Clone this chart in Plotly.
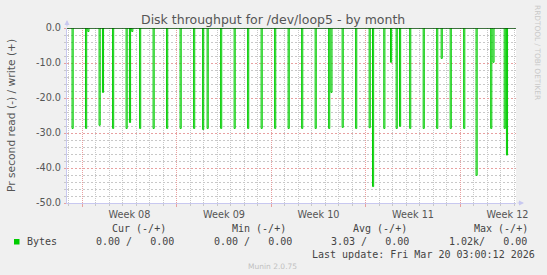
import plotly.graph_objects as go
from datetime import datetime, timedelta

# ---------------- data ----------------
range_start = "2026-02-14 21:00"
range_end = "2026-03-20 03:00"

spike_times = [
    "2026-02-15 06:00", "2026-02-16 06:00", "2026-02-16 10:00", "2026-02-17 06:00",
    "2026-02-17 12:00", "2026-02-18 06:00", "2026-02-19 06:00", "2026-02-19 12:00",
    "2026-02-19 16:00", "2026-02-20 06:00", "2026-02-21 06:00", "2026-02-22 06:00",
    "2026-02-23 06:00", "2026-02-24 06:00", "2026-02-24 22:00", "2026-02-25 06:00",
    "2026-02-26 06:00", "2026-02-27 06:00", "2026-02-28 06:00", "2026-03-01 06:00",
    "2026-03-02 06:00", "2026-03-03 06:00", "2026-03-04 06:00", "2026-03-05 06:00",
    "2026-03-06 06:00", "2026-03-06 10:00", "2026-03-07 06:00", "2026-03-08 06:00",
    "2026-03-09 06:00", "2026-03-09 12:00", "2026-03-10 08:00", "2026-03-10 20:00",
    "2026-03-11 06:00", "2026-03-11 12:00", "2026-03-12 06:00", "2026-03-13 06:00",
    "2026-03-14 06:00", "2026-03-14 14:00", "2026-03-15 06:00", "2026-03-16 06:00",
    "2026-03-17 04:00", "2026-03-18 06:00", "2026-03-18 10:00", "2026-03-19 06:00",
    "2026-03-19 10:00",
]
read_values = [
    28.7, 28.7, 1.0, 27.8,
    18.4, 28.7, 28.7, 27.0,
    1.0, 28.7, 28.7, 28.7,
    28.7, 28.7, 29.0, 28.7,
    28.7, 28.7, 28.7, 28.7,
    28.7, 28.7, 28.7, 28.7,
    28.7, 18.4, 28.4, 28.7,
    28.5, 45.3, 28.7, 9.8,
    28.7, 28.1, 28.7, 28.7,
    28.7, 8.7, 28.7, 28.7,
    42.1, 28.7, 9.8, 28.7,
    36.3,
]
sample_hours = 2  # month consolidation step

week_starts = ["2026-02-16", "2026-02-23", "2026-03-02", "2026-03-09", "2026-03-16"]
week_label_pos = ["2026-02-19 12:00", "2026-02-26 12:00", "2026-03-05 12:00",
                  "2026-03-12 12:00", "2026-03-19 12:00"]
week_labels = ["Week 08", "Week 09", "Week 10", "Week 11", "Week 12"]

y_ticks = [0, -10, -20, -30, -40, -50]
y_ticktext = ["0.0", "-10.0", "-20.0", "-30.0", "-40.0", "-50.0"]
y_minor_step = 2

legend_heads = ["Cur (-/+)", "Min (-/+)", "Avg (-/+)", "Max (-/+)"]
legend_label = "Bytes"
legend_vals = ["0.00 /   0.00", "0.00 /   0.00", "3.03 /   0.00", "1.02k/   0.00"]
last_update = "Last update: Fri Mar 20 03:00:12 2026"

# ---------------- build series ----------------
fmt = "%Y-%m-%d %H:%M"
xs = [range_start]
ys = [0]
for t, v in zip(spike_times, read_values):
    t0 = datetime.strptime(t, fmt)
    xs.append(t0)
    ys.append(-v)
    xs.append(t0 + timedelta(hours=sample_hours))
    ys.append(0)
xs.append(range_end)
ys.append(0)

# daily minor ticks and 2-unit minor ticks (axis furniture)
d0 = datetime.strptime(range_start, fmt).replace(hour=0, minute=0) + timedelta(days=1)
d1 = datetime.strptime(range_end, fmt)
day_ticks = []
d = d0
while d <= d1:
    day_ticks.append(d)
    d += timedelta(days=1)
y_minor_ticks = list(range(-50, 1, y_minor_step))

# ---------------- layout geometry ----------------
W, H = 547, 275
L, R, T, B = 67, 516, 28, 203


def px(x):
    return (x - L) / (R - L)


def py(y):
    return (B - y) / (B - T)


GREEN = "#00cc00"
MINOR = "rgb(200,200,200)"
MAJOR = "rgb(232,160,160)"
AXIS = "rgb(200,200,240)"
TXT = "#555555"
SANS = "DejaVu Sans"
MONO = "DejaVu Sans Mono"
XDOTS = "1px,1px"
YDOTS = "2px,2px"

fig = go.Figure()
fig.add_trace(go.Scatter(x=xs, y=ys, mode="lines", line=dict(color=GREEN, width=1, shape="hv"),
                         showlegend=False, hoverinfo="skip"))
# helper trace so the label axis exists
fig.add_trace(go.Scatter(x=[range_start, range_end], y=[0, 0], xaxis="x2", mode="lines",
                         line=dict(color="rgba(0,0,0,0)", width=0), showlegend=False, hoverinfo="skip"))

fig.update_layout(
    width=W, height=H,
    margin=dict(l=L, r=W - R, t=T, b=H - B, pad=0),
    paper_bgcolor="#f0f0f0", plot_bgcolor="#ffffff",
    showlegend=False,
    xaxis=dict(
        type="date", range=[range_start, range_end],
        tickmode="array", tickvals=week_starts, showticklabels=False,
        showgrid=True, gridcolor=MAJOR, griddash=XDOTS, gridwidth=1,
        ticks="outside", ticklen=3, tickcolor=MAJOR,
        minor=dict(tickmode="array", tickvals=day_ticks, showgrid=True,
                   gridcolor=MINOR, griddash=XDOTS, gridwidth=1,
                   ticks="outside", ticklen=2, tickcolor=MINOR),
        showline=True, linecolor=AXIS, linewidth=1, zeroline=False,
    ),
    xaxis2=dict(
        type="date", overlaying="x", matches="x", anchor="y", side="bottom",
        tickvals=week_label_pos, ticktext=week_labels, showgrid=False, ticks="",
        showline=False, zeroline=False,
        tickfont=dict(family=SANS, size=9.7, color=TXT), ticklabelstandoff=4,
    ),
    yaxis=dict(
        range=[-50, 0], tickmode="array", tickvals=y_ticks, ticktext=y_ticktext,
        showgrid=True, gridcolor=MAJOR, griddash=YDOTS, gridwidth=1,
        ticks="outside", ticklen=2, tickcolor=MAJOR,
        minor=dict(tickmode="array", tickvals=y_minor_ticks, showgrid=True, gridcolor=MINOR,
                   griddash=YDOTS, gridwidth=1, ticks="outside", ticklen=2, tickcolor=MINOR),
        showline=True, linecolor=AXIS, linewidth=1, zeroline=False,
        tickfont=dict(family=SANS, size=9.7, color=TXT), ticklabelstandoff=1,
    ),
)

# zero rule
fig.add_shape(type="line", xref="paper", x0=0, x1=1, yref="y", y0=0, y1=0,
              line=dict(color="#000000", width=1), layer="above")

ann = []
ann.append(dict(text="Disk throughput for /dev/loop5 - by month", xref="paper", yref="paper",
                x=px(272.5), y=py(19), xanchor="center", yanchor="middle", showarrow=False,
                font=dict(family=SANS, size=12.5, color=TXT)))
ann.append(dict(text="Pr second read (-) / write (+)", xref="paper", yref="paper",
                x=px(11), y=py(116), xanchor="center", yanchor="middle", textangle=-90,
                showarrow=False, font=dict(family=SANS, size=10.7, color=TXT)))
ann.append(dict(text="RRDTOOL / TOBI OETIKER", xref="paper", yref="paper",
                x=px(538), y=py(52), xanchor="center", yanchor="middle", textangle=90,
                showarrow=False, font=dict(family=SANS, size=7.4, color="#c8c8c8")))
for head, x0 in zip(legend_heads, [111, 231, 352, 473]):
    ann.append(dict(text=head.replace(" ", "\u00a0"), xref="paper", yref="paper", x=px(x0), y=py(228.6),
                    xanchor="left", yanchor="middle", showarrow=False, borderpad=0,
                    font=dict(family=MONO, size=10, color="#444444")))
ann.append(dict(text=legend_label, xref="paper", yref="paper", x=px(26), y=py(241.5),
                xanchor="left", yanchor="middle", showarrow=False, borderpad=0,
                font=dict(family=MONO, size=10, color="#444444")))
for val, x0 in zip(legend_vals, [95, 213, 330, 448]):
    ann.append(dict(text=val.replace(" ", "\u00a0"), xref="paper", yref="paper", x=px(x0), y=py(241.5),
                    xanchor="left", yanchor="middle", showarrow=False, borderpad=0,
                    font=dict(family=MONO, size=10, color="#444444")))
ann.append(dict(text=last_update.replace(" ", "\u00a0"), xref="paper", yref="paper", x=px(311), y=py(254),
                xanchor="left", yanchor="middle", showarrow=False, borderpad=0,
                font=dict(family=MONO, size=10, color="#444444")))
ann.append(dict(text="Munin 2.0.75", xref="paper", yref="paper", x=px(272.5), y=py(266.6),
                xanchor="center", yanchor="middle", showarrow=False,
                font=dict(family=SANS, size=7.5, color="#c0c0c0")))
ann.append(dict(text="", xref="paper", yref="paper", x=0, y=py(20), ax=0, ay=8,
                showarrow=True, arrowhead=2, arrowsize=1, arrowwidth=1, arrowcolor=AXIS))
ann.append(dict(text="", xref="paper", yref="paper", x=px(524), y=0, ax=-8, ay=0,
                showarrow=True, arrowhead=2, arrowsize=1, arrowwidth=1, arrowcolor=AXIS))
fig.update_layout(annotations=ann)

fig.add_shape(type="rect", xref="paper", yref="paper", x0=px(14), x1=px(19.5), y0=py(244.5), y1=py(239),
              fillcolor=GREEN, line=dict(width=0))

fig.write_html("out.html")
